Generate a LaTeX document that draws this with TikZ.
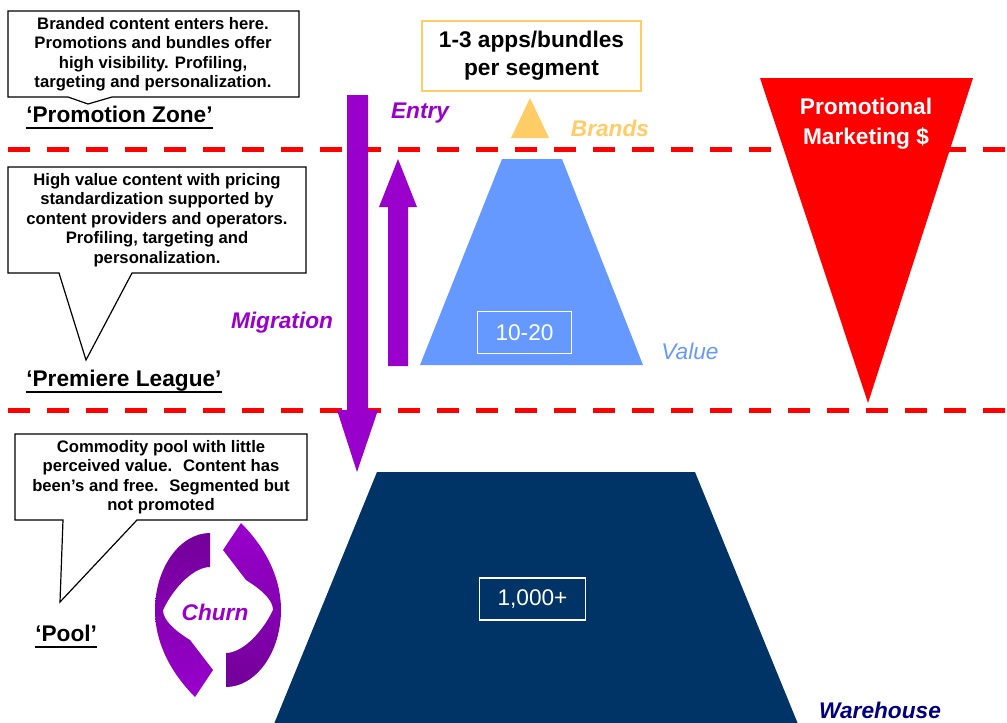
\documentclass[tikz,border=0pt]{standalone}
\usepackage{fontspec}
\setmainfont{Liberation Sans}
\usetikzlibrary{arrows.meta}

\definecolor{migpurple}{HTML}{9900CC}
\definecolor{brandorange}{HTML}{FFCC66}
\definecolor{valueblue}{HTML}{6699FF}
\definecolor{poolnavy}{HTML}{003366}
\definecolor{housenavy}{HTML}{000080}

\tikzset{
	callout/.style={draw=black, fill=white, line width=0.9pt, line join=miter},
	calltext/.style={font=\bfseries\fontsize{12.5}{14.6}\selectfont, align=center, inner sep=0pt},
	zone/.style={font=\bfseries\fontsize{17}{20}\selectfont, anchor=base west, inner sep=0pt},
	tag/.style={font=\bfseries\itshape\fontsize{17}{20}\selectfont, inner sep=0pt},
	cutline/.style={draw=red, line width=3.75pt, dash pattern=on 16.5pt off 12.75pt},
	countbox/.style={draw=white, line width=0.9pt, text=white, font=\fontsize{17}{20}\selectfont}
}

\begin{document}
\begin{tikzpicture}[x=0.75pt, y=-0.75pt]
			%%%%% START %%%%%
			\useasboundingbox (0,0) rectangle (1007,722);
			
			% tier borders
			\draw[cutline] (8,149) -- (1007,149);
			\draw[cutline] (8,410) -- (1007,410);
			
			% callouts
			\draw[callout] (8,11) -- (299,11) -- (299,97) -- (112,97) -- (88,104) -- (68,97) -- (8,97) -- cycle;
			\node (brandtxt) [calltext] at (153,54) {Branded content enters here.\\Promotions and bundles offer\\high visibility. Profiling,\\targeting and personalization.};
			
			\draw[callout] (8,167) -- (306,167) -- (306,273) -- (132,273) -- (86,360) -- (59,273) -- (8,273) -- cycle;
			\node (leaguetxt) [calltext] at (157,220) {High value content with pricing\\standardization supported by\\content providers and operators.\\Profiling, targeting and\\personalization.};
			
			\draw[callout] (15,434) -- (307,434) -- (307,520) -- (137,520) -- (60,602) -- (63,520) -- (15,520) -- cycle;
			\node (pooltxt) [calltext] at (161,477) {Commodity pool with little\\perceived value.~ Content has\\been’s and free.~ Segmented but\\not promoted};
			
			% zone names
			\node (pzone) [zone] at (26,122) {‘Promotion Zone’};
			\draw[line width=1.5pt] ([yshift=-4.5pt]pzone.base west) -- ([yshift=-4.5pt]pzone.base east);
			\node (lzone) [zone] at (26,386) {‘Premiere League’};
			\draw[line width=1.5pt] ([yshift=-4.5pt]lzone.base west) -- ([yshift=-4.5pt]lzone.base east);
			\node (qzone) [zone] at (35,641) {‘Pool’};
			\draw[line width=1.5pt] ([yshift=-4.5pt]qzone.base west) -- ([yshift=-4.5pt]qzone.base east);
			
			% promotional marketing funnel
			\fill[red] (760,78) -- (973,78) -- (868,403) -- cycle;
			\node (promo) [font=\bfseries\fontsize{17}{22.5}\selectfont, text=white, align=center] at (866,124) {Promotional\\Marketing \$};
			
			% migration and entry arrows
			\fill[migpurple] (347,95) -- (368,95) -- (368,410) -- (378,410) -- (357,472) -- (337,410) -- (347,410) -- cycle;
			\fill[migpurple] (388,366) -- (408,366) -- (408,207) -- (417,207) -- (398,159) -- (379,207) -- (388,207) -- cycle;
			\node (entry) [tag, text=migpurple] at (420,113) {Entry};
			\node (migration) [tag, text=migpurple] at (282,323) {Migration};
			
			% brands
			\node (apps) [draw=brandorange, line width=1.1pt, minimum width=164pt, minimum height=52.5pt, align=center, font=\bfseries\fontsize{17}{21}\selectfont] at (531.5,56) {1-3 apps/bundles\\per segment};
			\fill[brandorange] (511,138) -- (549,138) -- (530,98) -- cycle;
			\node (brands) [tag, text=brandorange] at (610,128) {Brands};
			
			% value
			\fill[valueblue] (502,159) -- (562,159) -- (643,365) -- (420,365) -- cycle;
			\node (valcount) [countbox, minimum width=71pt, minimum height=31pt] at (524.5,332.5) {10-20};
			\node (value) [font=\itshape\fontsize{17}{20}\selectfont, text=valueblue, inner sep=0pt] at (690,351) {Value};
			
			% warehouse
			\fill[poolnavy] (377,472) -- (695,472) -- (798,724) -- (274,724) -- cycle;
			\node (poolcount) [countbox, minimum width=80pt, minimum height=31.5pt] at (532.5,599) {1,000+};
			\node (warehouse) [tag, text=housenavy] at (880,710) {Warehouse};
			
			% churn
			\shade[top color=migpurple!75!black, bottom color=migpurple] (210,533) .. controls (180,533) and (155,568) .. (155,610) .. controls (155,648) and (176,678) .. (195,697) -- (213,670) -- (190,640) .. controls (174,630) and (163,620) .. (163,610) .. controls (175,585) and (195,567) .. (210,567) -- cycle;
			\shade[top color=migpurple, bottom color=migpurple!75!black] (226,687) .. controls (256,687) and (281,652) .. (281,610) .. controls (281,572) and (260,542) .. (241,523) -- (223,550) -- (246,580) .. controls (262,590) and (273,600) .. (273,610) .. controls (261,635) and (241,653) .. (226,653) -- cycle;
			\node (churn) [tag, text=migpurple] at (215,612) {Churn};
			
			%%%%% END %%%%%
\end{tikzpicture}
\end{document}
